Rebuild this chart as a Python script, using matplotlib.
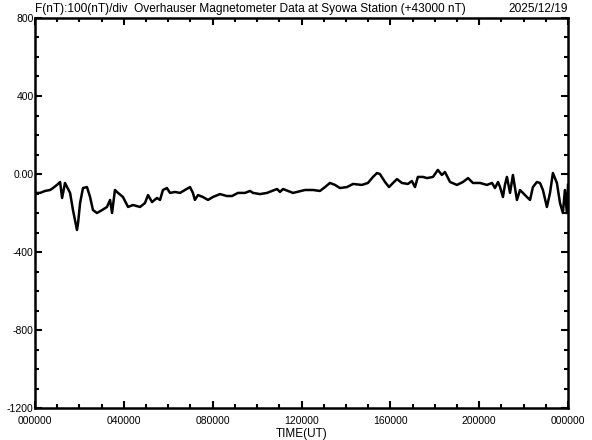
import matplotlib
matplotlib.use("Agg")
import matplotlib.pyplot as plt
from matplotlib.ticker import FixedLocator, FixedFormatter, NullFormatter

# time in hours UT, value in nT (offset from 43000 nT)
hours = [0.00, 0.23, 0.45, 0.68, 0.81, 0.99, 1.13, 1.22, 1.35, 1.58, 1.71, 1.89, 1.94,
         2.03, 2.16, 2.34, 2.48, 2.61, 2.79, 3.02, 3.24, 3.38, 3.47, 3.60, 3.74, 3.96,
         4.19, 4.41, 4.73, 4.95, 5.09, 5.27, 5.49, 5.63, 5.76, 5.94, 6.08, 6.30, 6.53,
         6.75, 6.98, 7.11, 7.20, 7.34, 7.56, 7.79, 8.01, 8.33, 8.64, 8.87, 9.14, 9.46,
         9.68, 9.82, 10.13, 10.45, 10.67, 10.90, 11.03, 11.17, 11.39, 11.62, 11.80,
         12.16, 12.52, 12.83, 13.06, 13.28, 13.51, 13.73, 14.05, 14.32, 14.72, 14.99,
         15.22, 15.40, 15.53, 15.76, 15.94, 16.12, 16.30, 16.52, 16.79, 16.97, 17.11,
         17.24, 17.47, 17.65, 17.92, 18.14, 18.32, 18.46, 18.69, 19.00, 19.27, 19.50,
         19.72, 20.04, 20.35, 20.58, 20.71, 20.85, 20.94, 21.07, 21.16, 21.25, 21.39,
         21.52, 21.70, 21.84, 21.97, 22.15, 22.29, 22.42, 22.60, 22.74, 22.87, 23.05,
         23.19, 23.32, 23.50, 23.64, 23.77, 23.86, 23.95, 24.00]
values = [-97, -97, -87, -82, -72, -56, -41, -123, -46, -97, -185, -287, -251,
          -149, -72, -67, -118, -185, -200, -185, -169, -133, -200, -82, -97, -118,
          -169, -159, -169, -149, -108, -144, -123, -133, -82, -72, -97, -92, -97,
          -82, -67, -97, -133, -108, -118, -133, -118, -103, -113, -113, -97, -97,
          -87, -97, -103, -97, -87, -77, -92, -77, -87, -97, -92,
          -82, -82, -87, -67, -46, -56, -72, -67, -51, -56, -46,
          -15, 5, 0, -41, -67, -46, -26, -46, -51, -36, -67,
          -15, -15, -21, -15, 21, -5, 10, -41, -56, -41, -21,
          -46, -46, -56, -46, -72, -41, -67, -118, -56, -15, -97,
          -5, -133, -82, -97, -118, -133, -67, -41, -46, -82, -169,
          -97, 5, -46, -149, -200, -82, -200, -56]

xtick_pos = [0, 4, 8, 12, 16, 20, 24]
xtick_labels = ["000000", "040000", "080000", "120000", "160000", "200000", "000000"]
ytick_pos = [800, 400, 0, -400, -800, -1200]
ytick_labels = ["800", "400", "0.00", "-400", "-800", "-1200"]

title_left = "F(nT):100(nT)/div  Overhauser Magnetometer Data at Syowa Station (+43000 nT)"
title_right = "2025/12/19"
xlabel = "TIME(UT)"

plt.rcParams['font.family'] = ['Liberation Sans', 'DejaVu Sans']

fig = plt.figure(figsize=(5.92, 4.40), dpi=100)
ax = fig.add_axes([35/592, 32/440, 533/592, 390/440])
ax.plot(hours, values, color='black', lw=1.8)
ax.set_xlim(0, 24)
ax.set_ylim(-1200, 800)

ax.xaxis.set_major_locator(FixedLocator(xtick_pos))
ax.xaxis.set_major_formatter(FixedFormatter(xtick_labels))
ax.xaxis.set_minor_locator(FixedLocator(range(0, 25)))
ax.xaxis.set_minor_formatter(NullFormatter())
ax.yaxis.set_major_locator(FixedLocator(ytick_pos))
ax.yaxis.set_major_formatter(FixedFormatter(ytick_labels))
ax.yaxis.set_minor_locator(FixedLocator(range(-1200, 801, 100)))
ax.yaxis.set_minor_formatter(NullFormatter())

ax.tick_params(which='both', direction='in', top=True, right=True, width=1.5,
               labelsize=7.5, colors='black')
ax.tick_params(which='major', length=5)
ax.tick_params(which='minor', length=3)
ax.tick_params(axis='x', which='major', pad=6)
ax.tick_params(axis='y', which='major', pad=1)
for lbl in ax.get_yticklabels():
    lbl.set_verticalalignment('center_baseline')
for s in ax.spines.values():
    s.set_linewidth(1.8)

ax.set_xlabel(xlabel, fontsize=8.5, labelpad=1)
fig.text(35/592, 1 - 12/440, title_left, fontsize=8.6, ha='left', va='baseline')
fig.text(568/592, 1 - 12/440, title_right, fontsize=8.6, ha='right', va='baseline')

fig.savefig("out.png", dpi=100, facecolor='white')
